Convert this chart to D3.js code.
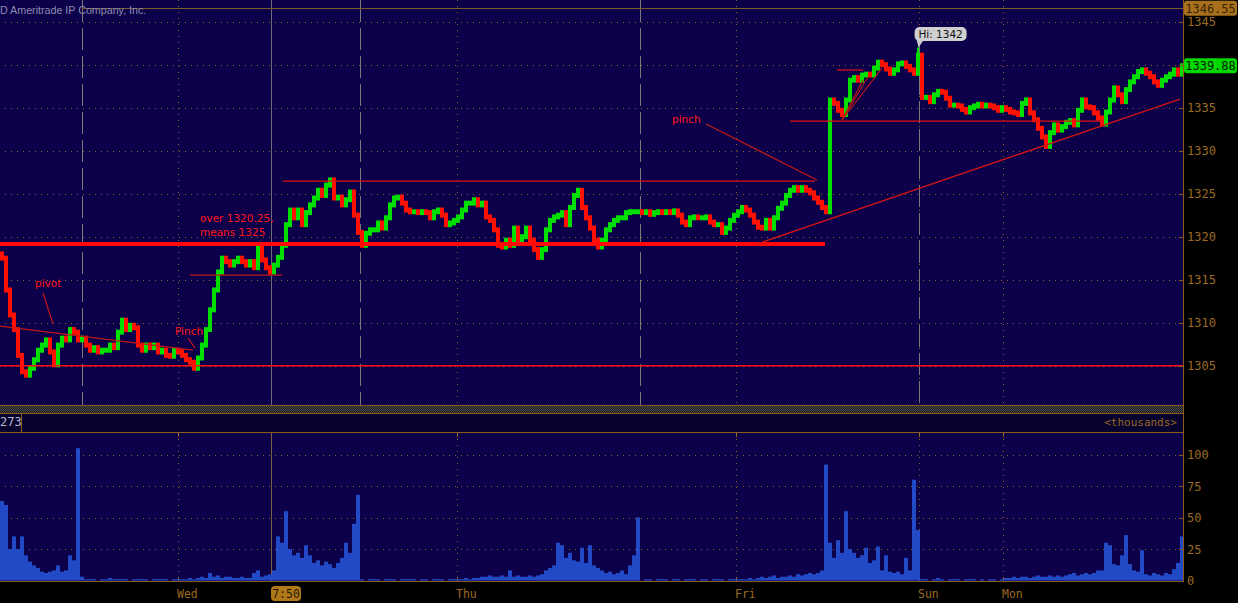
<!DOCTYPE html>
<html><head><meta charset="utf-8">
<script src="https://cdn.jsdelivr.net/npm/d3@7"></script>
<style>body{margin:0;background:#000;overflow:hidden}svg{display:block}</style>
</head><body><svg id="c" width="1238" height="603"></svg>
<script>
// ---- data ----
const closes = [
1317.5,1313.8,1310.9,1309.2,1306.2,1304.3,1303.9,1304.7,1305.7,1306.8,
1307.4,1308.0,1306.6,1305.1,1307.4,1308.2,1308.0,1309.2,1308.9,1308.0,
1308.2,1307.4,1306.8,1307.1,1306.6,1306.8,1306.8,1307.4,1307.1,1308.9,
1310.3,1309.2,1309.7,1309.4,1307.4,1306.8,1307.4,1307.1,1307.4,1306.6,
1306.8,1306.2,1306.1,1306.8,1306.6,1306.2,1305.7,1305.4,1304.7,1305.9,
1307.4,1309.2,1311.5,1313.8,1315.9,1317.5,1317.1,1316.7,1317.1,1317.5,
1317.1,1316.7,1317.1,1316.4,1319.0,1317.3,1316.4,1315.9,1316.7,1317.6,
1319.0,1321.4,1323.1,1322.2,1323.1,1321.4,1322.8,1323.7,1324.5,1325.4,
1324.8,1326.0,1326.6,1324.5,1324.6,1323.7,1324.3,1325.2,1322.5,1320.5,
1319.0,1320.4,1320.8,1320.8,1321.6,1321.0,1322.2,1323.7,1324.5,1324.6,
1323.9,1323.1,1322.9,1322.9,1322.8,1322.9,1322.8,1322.2,1322.9,1323.1,
1322.5,1321.4,1321.6,1321.9,1322.3,1323.1,1323.9,1323.9,1324.3,1323.7,
1323.9,1322.3,1321.9,1320.8,1319.0,1318.8,1319.6,1319.0,1321.0,1319.6,
1320.0,1321.0,1319.6,1318.5,1317.6,1318.5,1320.8,1321.9,1322.3,1322.5,
1322.8,1321.4,1323.4,1324.8,1325.4,1323.4,1322.2,1321.0,1319.6,1318.8,
1319.6,1320.8,1321.4,1321.9,1322.2,1322.2,1322.8,1322.9,1322.9,1322.9,
1322.8,1322.9,1322.6,1322.8,1322.9,1322.8,1322.9,1322.8,1323.0,1322.5,
1321.7,1321.4,1322.2,1322.3,1322.2,1322.2,1322.3,1321.7,1321.4,1321.4,
1320.5,1321.0,1321.9,1322.5,1322.9,1323.4,1323.1,1322.5,1321.7,1321.1,
1321.0,1321.9,1321.0,1322.2,1323.3,1323.9,1324.8,1325.4,1325.7,1325.4,
1325.7,1325.4,1325.1,1324.5,1324.0,1323.4,1322.9,1335.9,1335.5,1334.7,
1334.2,1335.9,1338.2,1338.5,1338.2,1338.8,1338.9,1338.8,1339.6,1340.3,
1340.0,1339.5,1339.0,1339.4,1340.1,1340.2,1339.8,1339.4,1339.0,1341.1,
1336.2,1336.2,1335.7,1336.5,1336.9,1336.8,1336.1,1335.3,1335.3,1335.2,
1334.8,1334.5,1335.0,1335.2,1335.4,1335.2,1335.3,1335.2,1335.0,1334.7,
1335.0,1334.8,1334.5,1334.4,1334.2,1335.5,1335.9,1334.4,1333.6,1332.6,
1331.6,1330.5,1332.1,1333.0,1332.4,1332.8,1333.3,1333.5,1333.0,1334.7,
1335.9,1335.1,1335.0,1334.4,1333.8,1333.1,1334.5,1335.9,1337.3,1336.5,
1335.7,1337.1,1338.0,1338.6,1339.2,1339.4,1339.0,1338.6,1338.0,1337.6,
1338.2,1338.6,1338.9,1339.4,1338.9,1339.88];
const firstOpen = 1318.0;
const volumes = [
63,60,25,35,25,35,20,15,12,10,
7,6,7,8,12,7,8,20,16,105,
3,1,1,1,0,1,1,2,1,1,
1,1,0,1,1,1,1,0,1,1,
1,1,0,1,1,1,1,2,1,2,
3,2,6,3,4,2,3,3,2,2,
3,2,2,6,8,3,4,5,8,35,
30,55,25,20,22,18,28,20,14,16,
12,15,13,10,14,18,30,22,45,68,
1,0,1,1,1,0,1,1,1,0,
1,1,1,1,0,1,1,0,1,1,
1,0,1,1,1,1,2,1,2,2,
3,3,4,3,3,4,3,8,3,4,
3,3,4,3,4,5,8,10,12,30,
28,18,22,16,15,26,14,28,12,10,
8,6,7,5,6,8,5,12,20,50,
0,1,1,0,1,1,1,0,1,1,
0,1,1,1,0,1,1,0,1,1,
1,0,1,1,1,1,1,2,1,2,
3,2,3,4,2,3,3,4,3,5,
4,5,6,5,6,8,92,30,18,32,
22,55,25,22,18,20,26,14,16,27,
8,20,7,6,7,5,18,8,80,40,
1,1,0,1,2,1,0,1,1,1,
0,1,1,1,0,1,0,1,1,0,
1,2,2,3,2,3,3,2,3,4,
3,3,4,3,4,3,4,5,6,4,
5,6,5,6,8,8,30,28,13,12,
20,36,13,8,7,24,5,4,6,5,
4,6,5,9,14,35];
const wicks = [[229, 1342.0]];
const priceTicks = [1305,1310,1315,1320,1325,1330,1335,1340,1345];
const volTicks = [0,25,50,75,100];
const volGrid = [25,50,75,100];
const dayLabels = ["Wed","Thu","Fri","Sun","Mon"];
const dayIdx = [44.5,114.25,184,229.75,250.75];
const sessionIdx = [20.5,90,160,229.75];
const cursorIdx = 67.75, cursorLabel = "7:50";
const lastPrice = 1339.88, rangeHigh = 1346.55, hiPrice = 1342, hiIdx = 229.4;
const volLeftLabel = "273", volUnitLabel = "<thousands>";
const copyright = "D Ameritrade IP Company, Inc.";
// annotation lines in [index, price] terms
const redLines = [
  {a:[0,1319.15], b:[206.25,1319.15], w:4, c:"#ff0a0a"},
  {a:[0,1305], b:[296,1305], w:1.4, c:"#ff1010"},
  {a:[0,1309.6], b:[48.25,1306.8], w:1.2, c:"#c01818"},
  {a:[10.75,1313.45], b:[13.25,1309.85], w:1.2, c:"#c01818"},
  {a:[47,1308.22], b:[48.75,1307.05], w:1.2, c:"#c01818"},
  {a:[47.5,1315.54], b:[70.5,1315.54], w:1.3, c:"#c01818"},
  {a:[70.75,1326.47], b:[203.75,1326.47], w:1.3, c:"#e01010"},
  {a:[176.5,1333.1], b:[204.25,1326.59], w:1.2, c:"#c01818"},
  {a:[189.25,1319.15], b:[295,1336.01], w:1.3, c:"#d01414"},
  {a:[197.5,1333.45], b:[275,1333.45], w:1.2, c:"#e01010"},
  {a:[209.25,1339.38], b:[215.75,1339.38], w:1.3, c:"#e01010"},
  {a:[210.5,1333.57], b:[215.75,1338.22], w:1.1, c:"#c01818"},
  {a:[210.5,1333.57], b:[217,1338.57], w:1.1, c:"#c01818"},
  {a:[210.5,1333.57], b:[220.5,1339.61], w:1.1, c:"#c01818"}
];
const notes = [
  {t:"pivot", i:8.75, p:1314.1},
  {t:"Pinch", i:43.75, p:1308.55},
  {t:"over 1320.25,", i:50, p:1321.75},
  {t:"means 1325", i:50, p:1320.05},
  {t:"pinch", i:168, p:1333.2}
];

// ---- layout ----
const W = 1238, H = 603, PR = 1183;
const svg = d3.select("#c");
const BG = "#0b0049", ORANGE = "#9a6a24", GRIDC = "#8a6428";
const x = d3.scaleLinear().domain([0, 296]).range([0, 1184]);
const y = d3.scaleLinear().domain([1305, 1345]).range([365.7, 21.7]);
const yv = d3.scaleLinear().domain([0, 100]).range([580.5, 454.5]);
const bw = x(1) - x(0);

svg.append("rect").attr("width", W).attr("height", H).attr("fill", "#000");
const defs = svg.append("defs");
const pat = defs.append("pattern").attr("id","chk").attr("width",2).attr("height",2).attr("patternUnits","userSpaceOnUse");
pat.append("rect").attr("width",2).attr("height",2).attr("fill","#1c1c1c");
pat.append("rect").attr("width",1).attr("height",1).attr("fill","#4a4a4a");
pat.append("rect").attr("x",1).attr("y",1).attr("width",1).attr("height",1).attr("fill","#4a4a4a");

// panels
svg.append("rect").attr("x",0).attr("y",0).attr("width",PR).attr("height",405).attr("fill",BG);
svg.append("rect").attr("x",0).attr("y",406).attr("width",PR).attr("height",7).attr("fill","url(#chk)");
svg.append("rect").attr("x",0).attr("y",414).attr("width",PR).attr("height",18).attr("fill","#07012e");
svg.append("rect").attr("x",0).attr("y",433).attr("width",PR).attr("height",148).attr("fill",BG);

// horizontal dotted grid
const g = svg.append("g");
g.selectAll(".hg").data(priceTicks).join("line")
  .attr("x1",5).attr("x2",1178).attr("y1",d=>Math.round(y(d))+0.5).attr("y2",d=>Math.round(y(d))+0.5)
  .attr("stroke",GRIDC).attr("stroke-dasharray","1,5");
g.selectAll(".vg").data(volGrid).join("line")
  .attr("x1",5).attr("x2",1178).attr("y1",d=>Math.round(yv(d))+0.5).attr("y2",d=>Math.round(yv(d))+0.5)
  .attr("stroke",GRIDC).attr("stroke-dasharray","1,5");

// vertical day lines (dotted) in both panels
dayIdx.forEach(d => {
  const xx = Math.round(x(d)) + 0.5;
  g.append("line").attr("x1",xx).attr("x2",xx).attr("y1",0).attr("y2",405).attr("stroke",GRIDC).attr("stroke-dasharray","1,5");
  g.append("line").attr("x1",xx).attr("x2",xx).attr("y1",433).attr("y2",581).attr("stroke",GRIDC).attr("stroke-dasharray","1,5");
  g.append("line").attr("x1",xx).attr("x2",xx).attr("y1",433).attr("y2",437).attr("stroke",ORANGE);
  g.append("line").attr("x1",xx).attr("x2",xx).attr("y1",577).attr("y2",581).attr("stroke",ORANGE);
});
// session lines (gray dashed)
sessionIdx.forEach((d,k) => {
  const xx = Math.round(x(d)) + 0.5;
  g.append("line").attr("x1",xx).attr("x2",xx).attr("y1",k===3?45:0).attr("y2",405)
    .attr("stroke","#7a7a7a").attr("stroke-dasharray","22,6");
});
// cursor line
{
  const xx = Math.round(x(cursorIdx)) + 0.5;
  g.append("line").attr("x1",xx).attr("x2",xx).attr("y1",0).attr("y2",405).attr("stroke","#6e6a78");
  g.append("line").attr("x1",xx).attr("x2",xx).attr("y1",433).attr("y2",581).attr("stroke","#7a6040");
}

// range high line
svg.append("line").attr("x1",x(sessionIdx[0])).attr("x2",PR).attr("y1",Math.round(y(rangeHigh))+0.5).attr("y2",Math.round(y(rangeHigh))+0.5)
  .attr("stroke","#7a5a2a").attr("stroke-width",1);

// copyright
svg.append("text").attr("x",0).attr("y",14).text(copyright)
  .attr("font-family","Liberation Sans, Arial, sans-serif").attr("font-size",10.7).attr("fill","#8c8cb0");

// volume bars
svg.append("g").selectAll("rect").data(volumes).join("rect")
  .attr("x",(d,i)=>x(i)).attr("width",bw)
  .attr("y",d=>yv(d)).attr("height",d=>Math.max(0, yv(0)-yv(d)))
  .attr("fill","#2249c6");

// price bars
const bars = closes.map((c,i)=>({i, o: i===0?firstOpen:closes[i-1], c}));
svg.append("g").selectAll("rect").data(bars).join("rect")
  .attr("x",d=>x(d.i)).attr("width",bw)
  .attr("y",d=>y(Math.max(d.o,d.c))-2.5)
  .attr("height",d=>Math.abs(y(d.o)-y(d.c))+5)
  .attr("fill",d=>d.c>=d.o?"#00e000":"#ff1000");
svg.append("g").selectAll("line").data(wicks).join("line")
  .attr("x1",d=>x(d[0])+bw/2).attr("x2",d=>x(d[0])+bw/2)
  .attr("y1",d=>y(d[1])).attr("y2",d=>y(closes[d[0]]))
  .attr("stroke","#00e000").attr("stroke-width",2);

// annotation lines
svg.append("g").selectAll("line").data(redLines).join("line")
  .attr("x1",d=>x(d.a[0])).attr("y1",d=>y(d.a[1]))
  .attr("x2",d=>x(d.b[0])).attr("y2",d=>y(d.b[1]))
  .attr("stroke",d=>d.c).attr("stroke-width",d=>d.w);

// notes
svg.append("g").selectAll("text").data(notes).join("text")
  .attr("x",d=>x(d.i)).attr("y",d=>y(d.p)).text(d=>d.t)
  .attr("font-family","DejaVu Sans, sans-serif").attr("font-size",10.5).attr("fill","#ff1818");

// Hi label
{
  const hx = x(hiIdx), hy = y(hiPrice);
  const bx = hx - 3, by = hy - 20.5;
  svg.append("path").attr("d",`M${bx+2},${by+13} L${hx+1},${hy} L${bx+9},${by+13} Z`).attr("fill","#c8c8c8");
  svg.append("rect").attr("x",bx).attr("y",by).attr("width",52).attr("height",14).attr("rx",5).attr("fill","#cfcfcf");
  svg.append("text").attr("x",bx+26).attr("y",by+11).attr("text-anchor","middle").text("Hi: " + hiPrice)
    .attr("font-family","DejaVu Sans, sans-serif").attr("font-size",10.5).attr("fill","#111");
}

// borders
const bc = "#8a5a1c";
svg.append("line").attr("x1",PR+0.5).attr("x2",PR+0.5).attr("y1",0).attr("y2",581.5).attr("stroke",bc);
[405.5, 413.5, 432.5, 581.5].forEach(yy =>
  svg.append("line").attr("x1",0).attr("x2",PR+1).attr("y1",yy).attr("y2",yy).attr("stroke",bc));
svg.append("line").attr("x1",21.5).attr("x2",21.5).attr("y1",414).attr("y2",432).attr("stroke",bc);

// axis labels (labels hidden behind price boxes are skipped, as in the original)
const axFont = "DejaVu Sans Mono, monospace";
const boxed = [lastPrice, rangeHigh];
const visTicks = priceTicks.filter(t => boxed.every(b => Math.abs(y(t) - y(b)) > 11));
const ya = svg.append("g");
ya.selectAll("line").data(priceTicks).join("line")
  .attr("x1",1179).attr("x2",1183).attr("y1",d=>Math.round(y(d))+0.5).attr("y2",d=>Math.round(y(d))+0.5).attr("stroke",bc);
ya.selectAll("text").data(visTicks).join("text")
  .attr("x",1187).attr("y",d=>y(d)+4.5).text(d=>d)
  .attr("font-family",axFont).attr("font-size",12).attr("fill",ORANGE);
const va = svg.append("g");
va.selectAll("line").data(volTicks).join("line")
  .attr("x1",1179).attr("x2",1183).attr("y1",d=>Math.round(yv(d))+0.5).attr("y2",d=>Math.round(yv(d))+0.5).attr("stroke",bc);
va.selectAll("text").data(volTicks).join("text")
  .attr("x",1187).attr("y",d=>yv(d)+4.5).text(d=>d)
  .attr("font-family",axFont).attr("font-size",12).attr("fill",ORANGE);

// price boxes
function priceBox(val, fill, tcol) {
  const yy = y(val);
  svg.append("rect").attr("x",1184).attr("y",yy-7.5).attr("width",53).attr("height",15).attr("rx",3).attr("fill",fill);
  svg.append("text").attr("x",1210.5).attr("y",yy+4.5).attr("text-anchor","middle").text(val.toFixed(2))
    .attr("font-family",axFont).attr("font-size",12).attr("fill",tcol);
}
priceBox(rangeHigh, "#a8701c", "#3a2406");
priceBox(lastPrice, "#00d800", "#062006");

// header strip labels
svg.append("text").attr("x",0).attr("y",426).text(volLeftLabel)
  .attr("font-family",axFont).attr("font-size",12).attr("fill","#b8b8c8");
svg.append("text").attr("x",1177).attr("y",426).attr("text-anchor","end").text(volUnitLabel)
  .attr("font-family",axFont).attr("font-size",11).attr("fill",ORANGE);

// x axis labels
svg.append("g").selectAll("text").data(dayLabels).join("text")
  .attr("x",(d,i)=>Math.round(x(dayIdx[i]))-1).attr("y",598).text(d=>d)
  .attr("font-family",axFont).attr("font-size",11.5).attr("fill",ORANGE);
{
  const cx = Math.round(x(cursorIdx));
  svg.append("rect").attr("x",cx).attr("y",586).attr("width",30).attr("height",15).attr("rx",4).attr("fill","#b07818");
  svg.append("text").attr("x",cx+15).attr("y",598).attr("text-anchor","middle").text(cursorLabel)
    .attr("font-family",axFont).attr("font-size",11.5).attr("fill","#2a1a04");
}
</script></body></html>
